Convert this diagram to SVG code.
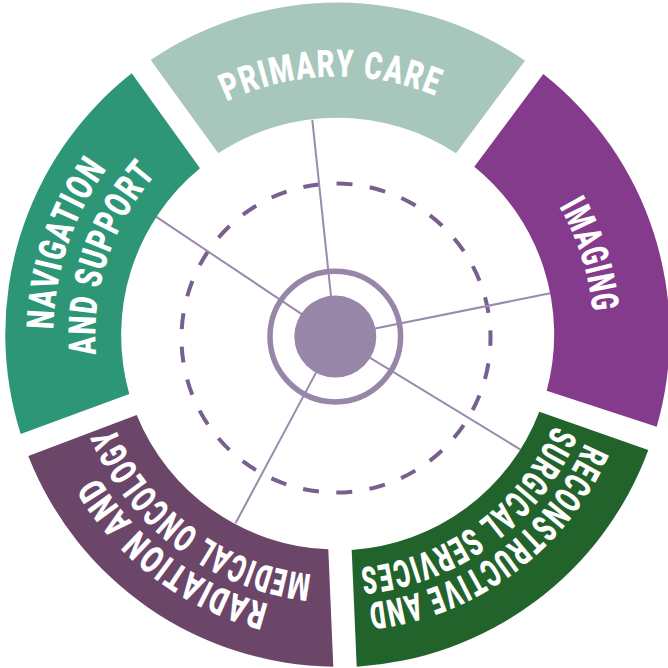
<svg xmlns="http://www.w3.org/2000/svg" xmlns:xlink="http://www.w3.org/1999/xlink" width="668" height="668" viewBox="0 0 668 668">
<style>
.lbl{font-family:Roboto,"Liberation Sans",sans-serif;font-weight:900;font-size:38px;fill:#ffffff;letter-spacing:2px;}
.spoke{stroke:#9a8aab;stroke-width:2;fill:none;}
</style>
<defs>
<path id="a258" d="M80.48,312.21 A258,258 0 0 1 594.52,312.21"/>
<path id="a256" d="M82.48,312.39 A256,256 0 0 1 592.52,312.39"/>
<path id="a284" d="M54.58,309.95 A284,284 0 0 1 620.42,309.95"/>
<path id="a242" d="M96.42,313.61 A242,242 0 0 1 578.58,313.61"/>
<path id="a270" d="M68.53,311.17 A270,270 0 0 1 606.47,311.17"/>
<path id="a234" d="M104.39,314.30 A234,234 0 0 1 570.61,314.30"/>
<path id="a278" d="M60.56,310.47 A278,278 0 0 1 614.44,310.47"/>
<path id="a241" d="M97.42,313.69 A241,241 0 0 1 577.58,313.69"/>
</defs>
<rect width="668" height="668" fill="#ffffff"/>
<circle cx="336" cy="338" r="154.5" fill="none" stroke="#77608f" stroke-width="4" stroke-dasharray="16 17.47" stroke-dashoffset="8"/>
<g id="connectors">
<line class="spoke" x1="335.3" y1="336.6" x2="312.3" y2="120"/>
<line class="spoke" x1="335.3" y1="336.6" x2="550" y2="293.3"/>
<line class="spoke" x1="335.3" y1="336.6" x2="520" y2="449.3"/>
<line class="spoke" x1="335.3" y1="336.6" x2="235.5" y2="523.3"/>
<line class="spoke" x1="335.3" y1="336.6" x2="156" y2="216.7"/>
</g>
<g id="center">
<circle cx="335.3" cy="336.6" r="65.3" fill="none" stroke="#9886a8" stroke-width="5.5"/>
<circle cx="335.3" cy="336.6" r="41" fill="#9886a8"/>
</g>
<g id="primary-care">
<path d="M150.7,60 A332,332 0 0 1 525,60.7 L456,153.3 A216,216 0 0 0 218.3,153.3 Z" fill="#a7c7bc"/>
<text class="lbl" transform="rotate(-1.5 337.5 334.7)"><textPath xlink:href="#a258" startOffset="50%" text-anchor="middle" textLength="216" lengthAdjust="spacingAndGlyphs">PRIMARY CARE</textPath></text>
</g>
<g id="imaging">
<path d="M543.3,74 A332,332 0 0 1 656.7,426.7 L546.7,390.7 A216,216 0 0 0 474.3,166.7 Z" fill="#843b8c"/>
<text class="lbl" transform="rotate(72.5 337.5 334.7)"><textPath xlink:href="#a256" startOffset="50%" text-anchor="middle" textLength="112" lengthAdjust="spacingAndGlyphs">IMAGING</textPath></text>
</g>
<g id="reconstructive">
<path d="M648.3,450 A332,332 0 0 1 356.7,666.7 L351.7,550 A216,216 0 0 0 539.3,411.7 Z" fill="#22632c"/>
<text class="lbl" transform="rotate(143.7 337.5 334.7)"><textPath xlink:href="#a270" startOffset="50%" text-anchor="middle" textLength="283" lengthAdjust="spacingAndGlyphs">RECONSTRUCTIVE AND</textPath></text>
<text class="lbl" transform="rotate(143.7 337.5 334.7)"><textPath xlink:href="#a234" startOffset="50%" text-anchor="middle" textLength="253" lengthAdjust="spacingAndGlyphs">SURGICAL SERVICES</textPath></text>
</g>
<g id="radiation">
<path d="M333.3,666.7 A332,332 0 0 1 28.3,456 L136.7,415 A216,216 0 0 0 328.3,549.3 Z" fill="#6b4669"/>
<text class="lbl" transform="rotate(-143 337.5 334.7)"><textPath xlink:href="#a278" startOffset="50%" text-anchor="middle" textLength="220" lengthAdjust="spacingAndGlyphs">RADIATION AND</textPath></text>
<text class="lbl" transform="rotate(-143 337.5 334.7)"><textPath xlink:href="#a241" startOffset="50%" text-anchor="middle" textLength="259" lengthAdjust="spacingAndGlyphs">MEDICAL ONCOLOGY</textPath></text>
</g>
<g id="navigation">
<path d="M20.7,434 A332,332 0 0 1 131.7,73.3 L200,168.3 A216,216 0 0 0 129.3,394 Z" fill="#2c9676"/>
<text class="lbl" transform="rotate(-71.5 337.5 334.7)"><textPath xlink:href="#a284" startOffset="50%" text-anchor="middle" textLength="173" lengthAdjust="spacingAndGlyphs">NAVIGATION</textPath></text>
<text class="lbl" transform="rotate(-71.5 337.5 334.7)"><textPath xlink:href="#a242" startOffset="50%" text-anchor="middle" textLength="196" lengthAdjust="spacingAndGlyphs">AND SUPPORT</textPath></text>
</g>
</svg>
